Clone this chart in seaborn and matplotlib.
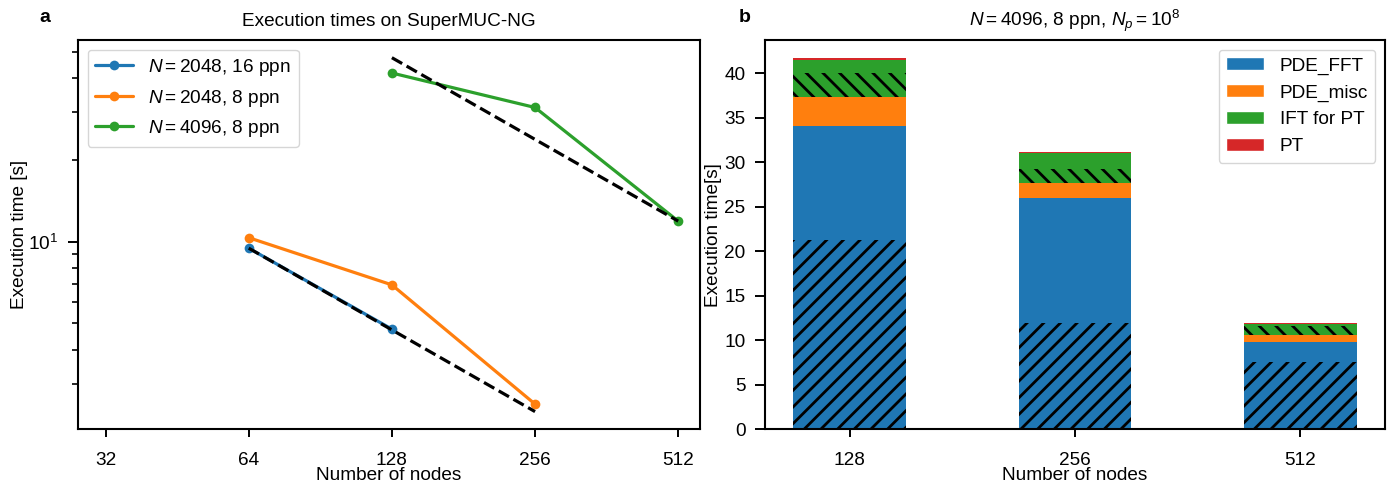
import numpy as np
import pandas as pd
import matplotlib
matplotlib.use("Agg")
import matplotlib.pyplot as plt
from matplotlib.patches import Patch
from matplotlib.ticker import NullFormatter
import seaborn as sns

# panel a: strong scaling runs
nodes_2048_16 = [64, 128]
time_2048_16 = [9.46, 4.76]
nodes_2048_8 = [64, 128, 256]
time_2048_8 = [10.34, 6.93, 2.52]
nodes_4096_8 = [128, 256, 512]
time_4096_8 = [41.8, 31.2, 11.9]
series_labels = [r"$N = 2048$, 16 ppn", r"$N = 2048$, 8 ppn", r"$N = 4096$, 8 ppn"]
node_ticks = [32, 64, 128, 256, 512]

# panel b: time breakdown for N=4096, 8 ppn
bar_nodes = ["128", "256", "512"]
fft_comm = [21.3, 12.0, 7.55]   # hatched part of PDE_FFT
fft_rest = [12.8, 14.0, 2.25]
pde_misc = [3.2, 1.7, 0.8]
ift_comm = [2.7, 1.6, 1.05]     # hatched part of IFT for PT
ift_rest = [1.5, 1.7, 0.18]
pt = [0.2, 0.15, 0.12]
bar_labels = ["PDE_FFT", "PDE_misc", "IFT for PT", "PT"]

colors = sns.color_palette("tab10")
blue, orange, green, red = colors[0], colors[1], colors[2], colors[3]

sns.set_style("ticks")
plt.rcParams["font.family"] = ["Liberation Sans", "DejaVu Sans"]
fs = 13.7
plt.rcParams.update({
    "font.size": fs,
    "axes.titlesize": fs,
    "axes.labelsize": fs,
    "legend.fontsize": fs,
    "xtick.labelsize": fs,
    "ytick.labelsize": fs,
    "mathtext.fontset": "custom",
    "mathtext.rm": "Liberation Sans",
    "mathtext.it": "Liberation Sans:italic",
    "mathtext.bf": "Liberation Sans:bold",
    "axes.edgecolor": "black",
    "axes.linewidth": 1.5,
    "xtick.color": "black",
    "ytick.color": "black",
    "text.color": "black",
    "axes.labelcolor": "black",
    "xtick.major.size": 6,
    "xtick.major.pad": 10,
    "ytick.major.size": 7,
    "ytick.major.pad": 7,
    "ytick.minor.size": 4,
    "xtick.major.width": 1.4,
    "ytick.major.width": 1.4,
    "ytick.minor.width": 1.2,
    "hatch.linewidth": 2.0,
})

W, H = 1395, 484
fig = plt.figure(figsize=(W / 100, H / 100), dpi=100)
ax1 = fig.add_axes([78 / W, 1 - 429.3 / H, 622 / W, 389.3 / H])
ax2 = fig.add_axes([765 / W, 1 - 429.3 / H, 620 / W, 389.3 / H])

# ---- panel a
lw = 2.3
for xs, ys, c, lab in zip([nodes_2048_16, nodes_2048_8, nodes_4096_8],
                          [time_2048_16, time_2048_8, time_4096_8],
                          [blue, orange, green], series_labels):
    sns.lineplot(x=xs, y=ys, color=c, marker="o", markersize=7, markeredgewidth=0,
                 linewidth=lw, label=lab, ax=ax1)

# ideal scaling references
sns.lineplot(x=[64, 256], y=[time_2048_16[0], time_2048_16[0] / 4], color="black",
             linestyle="--", linewidth=lw, ax=ax1)
sns.lineplot(x=[128, 512], y=[time_4096_8[-1] * 4, time_4096_8[-1]], color="black",
             linestyle="--", linewidth=lw, ax=ax1)

ax1.set_xscale("log", base=2)
ax1.set_yscale("log")
ax1.set_xlim(28, 569)
ax1.set_xticks(node_ticks)
ax1.set_xticklabels([str(n) for n in node_ticks])
ax1.yaxis.set_minor_formatter(NullFormatter())
ax1.set_xlabel("Number of nodes", labelpad=-1)
ax1.set_ylabel("Execution time [s]", labelpad=0)
ax1.set_title("Execution times on SuperMUC-NG", pad=10)
ax1.legend(loc="upper left")

# ---- panel b: stacked bars drawn from the top of the stack downwards
c1 = np.array(fft_comm)
c2 = c1 + np.array(fft_rest)
c3 = c2 + np.array(pde_misc)
c4 = c3 + np.array(ift_comm)
c5 = c4 + np.array(ift_rest)
c6 = c5 + np.array(pt)
layers = [(c6, red, None), (c5, green, None), (c4, green, "\\\\"),
          (c3, orange, None), (c2, blue, None), (c1, blue, "//")]
for tops, c, h in layers:
    sns.barplot(x=bar_nodes, y=tops, order=bar_nodes, color=c, saturation=1,
                width=0.5, hatch=h, edgecolor="black", linewidth=0, ax=ax2)

ax2.set_xlim(-0.375, 2.375)
ax2.set_ylim(0, 43.75)
ax2.set_xlabel("Number of nodes", labelpad=-1)
ax2.set_ylabel("Execution time[s]")
ax2.yaxis.set_label_coords(-0.07, 0.5)
ax2.set_title(r"$N = 4096$, 8 ppn, $N_p = 10^8$", pad=10)
handles = [Patch(facecolor=c, label=l) for c, l in zip([blue, orange, green, red], bar_labels)]
ax2.legend(handles=handles, loc="upper right")

fig.text(45 / W, 1 - 18 / H, "a", weight="bold", ha="center", va="center", fontsize=14)
fig.text(745 / W, 1 - 18 / H, "b", weight="bold", ha="center", va="center", fontsize=14)

fig.savefig("out.png", dpi=100)
